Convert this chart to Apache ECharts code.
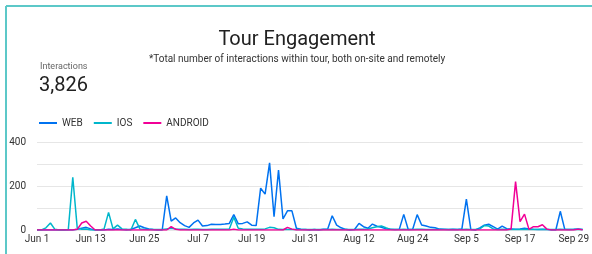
<!DOCTYPE html>
<html>
<head>
<meta charset="utf-8">
<script src="https://cdn.jsdelivr.net/npm/echarts@6/dist/echarts.min.js"></script>
<style>
    html, body { margin: 0; padding: 0; background: #fff; }
    #chart { width: 592px; height: 254px; }
</style>
</head>
<body>
<div id="chart"></div>
<script>
// daily values, Jun 1 .. Oct 1
var web_data = [
    0, 0, 0, 0, 0, 0, 0, 0, 0, 3,
    8, 12, 5, 0, 0, 0, 3, 2, 5, 2,
    0, 3, 10, 18, 10, 5, 2, 0, 0, 155,
    40, 55, 33, 20, 12, 32, 45, 18, 20, 26,
    25, 25, 27, 30, 70, 28, 30, 37, 22, 20,
    190, 163, 305, 60, 272, 50, 87, 87, 8, 3,
    2, 0, 2, 0, 3, 5, 65, 22, 10, 3,
    0, 2, 30, 15, 8, 27, 17, 12, 6, 3,
    2, 3, 71, 2, 3, 70, 23, 18, 12, 10,
    4, 3, 2, 3, 2, 5, 140, 2, 0, 10,
    22, 26, 15, 4, 18, 6, 5, 3, 5, 8,
    5, 3, 2, 3, 2, 0, 0, 85, 3, 2,
    3, 5, 2
]
var ios_data = [
    0, 0, 10, 32, 3, 0, 0, 2, 240, 8,
    3, 5, 0, 0, 0, 5, 80, 5, 22, 5,
    3, 0, 48, 5, 3, 2, 2, 2, 2, 5,
    8, 5, 3, 3, 2, 3, 3, 2, 2, 3,
    3, 3, 3, 5, 58, 8, 5, 3, 3, 3,
    3, 5, 12, 10, 3, 2, 2, 2, 2, 2,
    2, 2, 2, 2, 2, 2, 3, 2, 2, 2,
    2, 2, 3, 3, 5, 10, 15, 18, 10, 3,
    2, 2, 3, 2, 2, 3, 3, 2, 2, 2,
    2, 2, 2, 2, 2, 2, 3, 2, 2, 5,
    20, 18, 5, 2, 3, 2, 2, 2, 2, 2,
    2, 2, 2, 2, 2, 2, 2, 3, 2, 2,
    2, 2, 2
]
var android_data = [
    0, 0, 0, 0, 0, 0, 0, 0, 0, 3,
    32, 40, 18, 0, 0, 0, 0, 0, 0, 0,
    0, 0, 0, 0, 0, 0, 0, 0, 0, 0,
    15, 3, 0, 0, 0, 0, 0, 0, 0, 0,
    0, 0, 0, 0, 3, 0, 0, 0, 0, 0,
    0, 0, 0, 0, 0, 0, 12, 4, 0, 0,
    0, 0, 0, 0, 0, 0, 0, 0, 0, 0,
    0, 0, 0, 0, 0, 0, 0, 0, 0, 0,
    0, 0, 0, 0, 0, 0, 0, 0, 0, 0,
    0, 0, 0, 0, 0, 0, 0, 0, 0, 0,
    0, 0, 0, 0, 0, 0, 5, 220, 38, 72,
    3, 15, 15, 24, 4, 0, 0, 0, 0, 0,
    0, 4, 0
]
var series_names = ['WEB', 'IOS', 'ANDROID']
var series_colors = ['#0072f0', '#00b6cb', '#f10096']
var y_ticks = [0, 100, 200, 300, 400]
var y_labels = ['0', '', '200', '', '400']
var total_interactions = '3,826'

var month_names = ['Jun', 'Jul', 'Aug', 'Sep', 'Oct']
var month_days = [30, 31, 31, 30, 1]
var xAxis_data = []
for (var m = 0; m < month_names.length; m++) {
    for (var d = 1; d <= month_days[m]; d++) {
        xAxis_data.push(month_names[m] + ' ' + d)
    }
}

var chart = echarts.init(document.getElementById('chart'));
var all_data = [web_data, ios_data, android_data]
var series = []
for (var i = 0; i < series_names.length; i++) {
    series.push({
        name: series_names[i],
        type: 'line',
        data: all_data[i],
        showSymbol: false,
        symbol: 'none',
        lineStyle: { width: 1.5, color: series_colors[i] },
        itemStyle: { color: series_colors[i] }
    })
}

var option = {
    animation: false,
    textStyle: { fontFamily: 'Roboto' },
    title: [
        {
            text: 'Tour Engagement',
            left: 297, top: 30, textAlign: 'center', padding: 0,
            textStyle: { fontSize: 20, fontWeight: 'normal', color: '#212121', fontFamily: 'Roboto' }
        },
        {
            text: '*Total number of interactions within tour, both on-site and remotely',
            left: 297, top: 54, textAlign: 'center', padding: 0,
            textStyle: { fontSize: 10, fontWeight: 'normal', color: '#333', fontFamily: 'Roboto' }
        },
        {
            text: 'Interactions',
            left: 40, top: 62, padding: 0,
            textStyle: { fontSize: 9, fontWeight: 'normal', color: '#666', fontFamily: 'Roboto' }
        },
        {
            text: total_interactions,
            left: 39, top: 76, padding: 0,
            textStyle: { fontSize: 20, fontWeight: 'normal', color: '#212121', fontFamily: 'Roboto' }
        }
    ],
    graphic: [
        { type: 'line', shape: { x1: 6, y1: 6, x2: 592, y2: 6 }, style: { stroke: '#5cc8c8', lineWidth: 2 } },
        { type: 'line', shape: { x1: 6, y1: 6, x2: 6, y2: 254 }, style: { stroke: '#5cc8c8', lineWidth: 2 } }
    ],
    legend: {
        left: 39, top: 118, padding: 0,
        icon: 'rect',
        itemWidth: 18, itemHeight: 2,
        itemGap: 11,
        textStyle: { fontSize: 10, color: '#333', fontFamily: 'Roboto' },
        data: series_names
    },
    grid: { left: 37, right: 4, top: 142, bottom: 24 },
    xAxis: {
        type: 'category',
        boundaryGap: false,
        data: xAxis_data,
        axisLine: { show: false },
        axisTick: { show: false },
        axisLabel: { interval: 11, margin: 4, fontSize: 10, color: '#333', fontFamily: 'Roboto' },
        splitLine: { show: false }
    },
    yAxis: {
        type: 'value',
        min: 0, max: 400, interval: 100,
        axisLine: { show: false },
        axisTick: { show: false },
        axisLabel: {
            margin: 11, fontSize: 10, color: '#333', fontFamily: 'Roboto',
            formatter: function (v) { return y_labels[y_ticks.indexOf(v)] }
        },
        splitLine: { lineStyle: { color: '#e6e6e6', width: 1 } }
    },
    series: series
};
chart.setOption(option);
</script>
</body>
</html>
